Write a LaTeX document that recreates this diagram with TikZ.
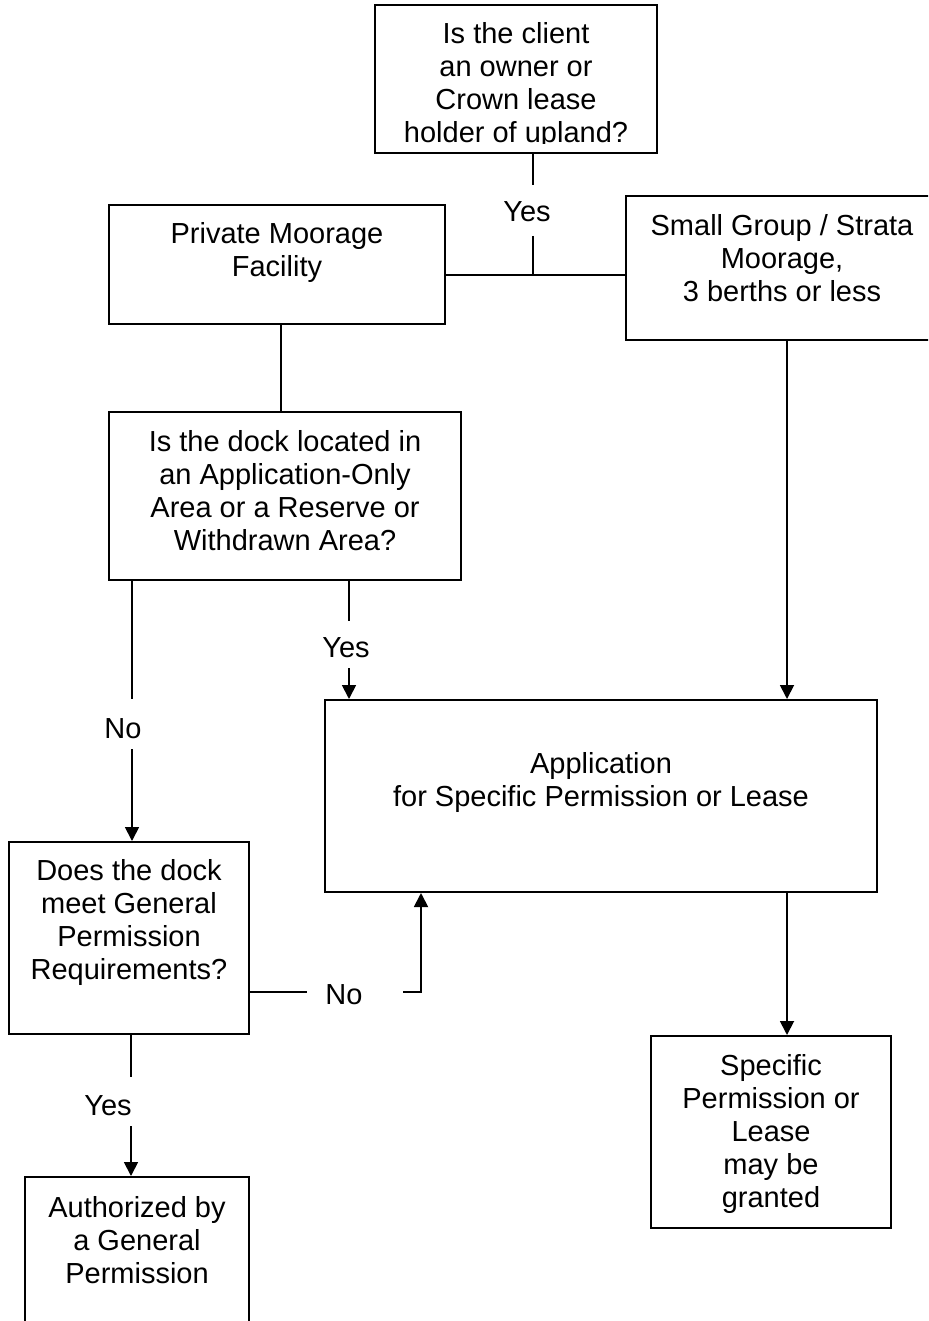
\documentclass[tikz,border=0pt]{standalone}
\usepackage{fontspec}
\setmainfont{Liberation Sans}
\usetikzlibrary{arrows.meta}
\begin{document}
\begin{tikzpicture}[x=1pt,y=-1pt,
  box/.style={draw,line width=2pt,inner sep=0pt},
  txt/.style={font=\fontsize{29}{33}\selectfont,align=center,inner sep=0pt,anchor=north},
  lbl/.style={font=\fontsize{29}{33}\selectfont,inner sep=0pt},
  conn/.style={line width=1.8pt},
  arr/.style={line width=1.8pt,-{Triangle[width=14pt,length=14pt]}}]
\clip (0,0) rectangle (928,1321);
\fill[white] (0,0) rectangle (928,1321);

% boxes
\node[box,minimum width=282pt,minimum height=148pt] (top)   at (516,79) {};
\node[box,minimum width=336pt,minimum height=119pt] (priv)  at (277,264.5) {};
\node[box,minimum width=312pt,minimum height=144pt] (small) at (782,268) {};
\node[box,minimum width=352pt,minimum height=168pt] (dec)   at (285,496) {};
\node[box,minimum width=552pt,minimum height=192pt] (app)   at (601,796) {};
\node[box,minimum width=240pt,minimum height=192pt] (does)  at (129,938) {};
\node[box,minimum width=240pt,minimum height=192pt] (spec)  at (771,1132) {};
\node[box,minimum width=224pt,minimum height=163pt] (auth)  at (137,1258.5) {};

% texts
\begin{scope}
\clip (380,8) rectangle (652,144);
\node[txt] (toptxt) at (516,20) {\strut Is the client\\an owner or\\Crown lease\\holder of upland?};
\end{scope}
\node[txt] (privtxt)  at (277,220) {\strut Private Moorage\\Facility};
\node[txt] (smalltxt) at (782,212) {\strut Small Group / Strata\\Moorage,\\3 berths or less};
\node[txt] (dectxt)   at (285,428) {\strut Is the dock located in\\an Application-Only\\Area or a Reserve or\\Withdrawn Area?};
\node[txt] (apptxt)   at (601,750) {\strut Application\\for Specific Permission or Lease};
\node[txt] (doestxt)  at (129,857) {\strut Does the dock\\meet General\\Permission\\Requirements?};
\node[txt] (spectxt)  at (771,1052) {\strut Specific\\Permission or\\Lease\\may be\\granted};
\node[txt] (authtxt)  at (137,1194) {\strut Authorized by\\a General\\Permission};

% labels
\node[lbl] (yes1) at (527,212) {Yes};
\node[lbl] (yes2) at (346,648) {Yes};
\node[lbl] (no1)  at (123,729) {No};
\node[lbl] (no2)  at (344,995) {No};
\node[lbl] (yes3) at (108,1106) {Yes};

% coordinates
\coordinate (j1)  at (533,275);
\coordinate (g1a) at (533,185);
\coordinate (g1b) at (533,236);
\coordinate (n1a) at (132,699);
\coordinate (n1b) at (132,749);
\coordinate (y2a) at (349,621);
\coordinate (y2b) at (349,668);
\coordinate (xr)  at (787,0);
\coordinate (n2a) at (307,992);
\coordinate (n2b) at (403,992);
\coordinate (n2c) at (421,992);
\coordinate (y3a) at (131,1077);
\coordinate (y3b) at (131,1126);

% connectors
\draw[conn] (top.south -| j1) -- (g1a);
\draw[conn] (g1b) -- (j1);
\draw[conn] (priv.east |- j1) -- (small.west |- j1);
\draw[conn] ([xshift=4pt]priv.south) -- ([xshift=-4pt]dec.north);
\draw[conn] (dec.south -| n1a) -- (n1a);
\draw[arr]  (n1b) -- (does.north -| n1b);
\draw[conn] (dec.south -| y2a) -- (y2a);
\draw[arr]  (y2b) -- (app.north -| y2b);
\draw[arr]  (small.south -| xr) -- (app.north -| xr);
\draw[arr]  (app.south -| xr) -- (spec.north -| xr);
\draw[conn] (does.east |- n2a) -- (n2a);
\draw[arr]  (n2b) -- (n2c) -- (app.south -| n2c);
\draw[conn] (does.south -| y3a) -- (y3a);
\draw[arr]  (y3b) -- (auth.north -| y3b);
\end{tikzpicture}
\end{document}
